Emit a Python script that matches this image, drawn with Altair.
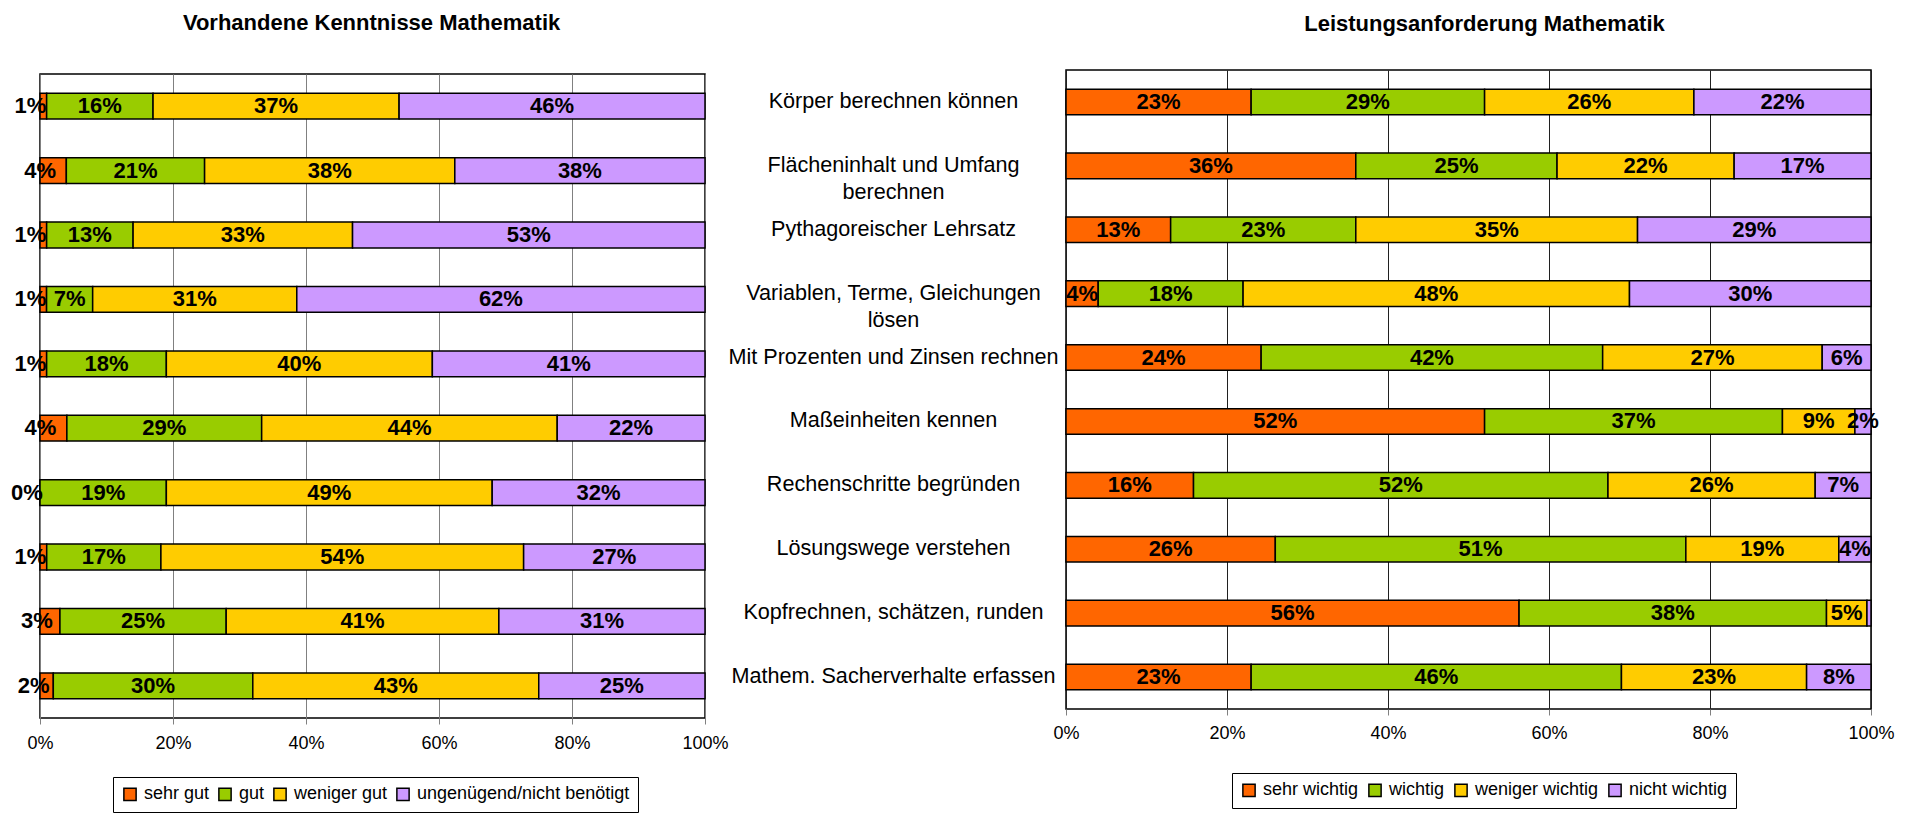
import altair as alt
import pandas as pd

FONT = "Liberation Sans"

# ---------------- left chart data ----------------
left_title = "Vorhandene Kenntnisse Mathematik"
left_series = ["sehr gut", "gut", "weniger gut", "ungenügend/nicht benötigt"]
left_rows = [1, 2, 3, 4, 5, 6, 7, 8, 9, 10]
left_sehr_gut = [1, 4, 1, 1, 1, 4, 0, 1, 3, 2]
left_gut = [16, 21, 13, 7, 18, 29, 19, 17, 25, 30]
left_weniger_gut = [37, 38, 33, 31, 40, 44, 49, 54, 41, 43]
left_ungenuegend = [46, 38, 53, 62, 41, 22, 32, 27, 31, 25]
left_colors = ["#FF6600", "#99CC00", "#FFCC00", "#CC99FF"]

# ---------------- right chart data ----------------
right_title = "Leistungsanforderung Mathematik"
right_series = ["sehr wichtig", "wichtig", "weniger wichtig", "nicht wichtig"]
right_categories = [
    "Körper berechnen können",
    "Flächeninhalt und Umfang\nberechnen",
    "Pythagoreischer Lehrsatz",
    "Variablen, Terme, Gleichungen\nlösen",
    "Mit Prozenten und Zinsen rechnen",
    "Maßeinheiten kennen",
    "Rechenschritte begründen",
    "Lösungswege verstehen",
    "Kopfrechnen, schätzen, runden",
    "Mathem. Sacherverhalte erfassen",
]
right_sehr_wichtig = [23, 36, 13, 4, 24, 52, 16, 26, 56, 23]
right_wichtig = [29, 25, 23, 18, 42, 37, 52, 51, 38, 46]
right_weniger_wichtig = [26, 22, 35, 48, 27, 9, 26, 19, 5, 23]
right_nicht_wichtig = [22, 17, 29, 30, 6, 2, 7, 4, 0.5, 8]
right_unlabelled = [("Kopfrechnen, schätzen, runden", "nicht wichtig")]
right_colors = ["#FF6600", "#99CC00", "#FFCC00", "#CC99FF"]


def build(cats, series, columns, unlabelled=()):
    rows = []
    for ci, c in enumerate(cats):
        for si, s in enumerate(series):
            v = columns[si][ci]
            lab = "" if (c, s) in unlabelled else f"{round(v)}%"
            rows.append({"cat": c, "series": s, "order": si, "v": v, "label": lab})
    return pd.DataFrame(rows)


left_df = build(left_rows, left_series,
                [left_sehr_gut, left_gut, left_weniger_gut, left_ungenuegend])
right_df = build(right_categories, right_series,
                 [right_sehr_wichtig, right_wichtig, right_weniger_wichtig, right_nicht_wichtig],
                 right_unlabelled)


def title_params(text, offset, dx):
    return alt.TitleParams(text=text, font=FONT, fontSize=22, fontWeight="bold",
                           color="black", anchor="middle", offset=offset, dx=dx)


def panel(df, cats, series, colors, width, height, grid_color, y_axis,
          legend_x, legend_y, first_dx, col_pad, label_pad_x):
    base = alt.Chart(df).transform_stack(
        stack="v", groupby=["cat"], as_=["x0", "x1"], offset="normalize",
        sort=[alt.SortField(field="order", order="ascending")],
    ).transform_calculate(mid="(datum.x0 + datum.x1) / 2")

    ysc = alt.Scale(paddingInner=0.6, paddingOuter=0.3)
    yenc = alt.Y("cat:N", sort=cats, scale=ysc, axis=y_axis, title=None)

    bars = base.mark_bar(stroke="black", strokeWidth=1.5).encode(
        x=alt.X("x0:Q", scale=alt.Scale(domain=[0, 1], nice=False, zero=True),
                axis=alt.Axis(values=[0, 0.2, 0.4, 0.6, 0.8, 1.0], format=".0%",
                              grid=True, gridColor=grid_color, gridWidth=1,
                              domain=False, ticks=True, tickSize=6, tickColor="#808080",
                              labelFont=FONT, labelFontSize=18, labelColor="black",
                              labelPadding=label_pad_x, labelFlush=False),
                title=None),
        x2="x1:Q",
        y=yenc,
        color=alt.Color("series:N", scale=alt.Scale(domain=series, range=colors),
                        legend=alt.Legend(title=None, orient="none", legendX=legend_x,
                                          legendY=legend_y, direction="horizontal",
                                          columns=4, symbolType="square", symbolSize=150,
                                          symbolStrokeColor="black", symbolStrokeWidth=1.5,
                                          labelFont=FONT, labelFontSize=18, labelLimit=0,
                                          labelColor="black", labelOffset=5,
                                          strokeColor="black", fillColor="white",
                                          padding=8, columnPadding=col_pad)),
    )
    txt_kw = dict(font=FONT, fontSize=22, fontWeight="bold", color="black", baseline="middle")
    text_first = base.transform_filter("datum.order == 0").mark_text(dx=first_dx, **txt_kw).encode(
        x="mid:Q", y=alt.Y("cat:N", sort=cats), text="label:N")
    text_rest = base.transform_filter("datum.order > 0").mark_text(**txt_kw).encode(
        x="mid:Q", y=alt.Y("cat:N", sort=cats), text="label:N")
    return alt.layer(bars, text_first, text_rest).properties(width=width, height=height)


left_panel = panel(left_df, left_rows, left_series, left_colors, 665, 644, "#808080", None,
                   73, 707, -13, 5, 10)

# invisible strip above the left plot: its frame sits a little lower than the right one
spacer = alt.Chart(pd.DataFrame({"s": [0]})).mark_point(opacity=0, size=0, strokeWidth=0).encode(
    x=alt.X("s:Q", axis=None), y=alt.Y("s:Q", axis=None)
).properties(width=665, height=1, view=alt.ViewBackground(stroke="transparent"))

left = alt.vconcat(spacer, left_panel, spacing=1).resolve_scale(
    x="independent", y="independent"
).properties(title=title_params(left_title, 34, 2))

right = panel(right_df, right_categories, right_series, right_colors, 805, 639, "#202020",
              alt.Axis(labelAlign="center", labelBaseline="middle", labelPadding=173,
                       ticks=False, domain=False, labelFont=FONT, labelFontSize=21.6,
                       labelColor="black", labelLineHeight=27, labelLimit=0,
                       labelExpr="split(datum.label, '\\n')"),
              166, 703, 0, 6, 9).properties(title=title_params(right_title, 34, 16))

chart = alt.hconcat(left, right, spacing=-2).resolve_scale(
    color="independent", x="independent", y="independent"
).resolve_legend(color="independent").configure(
    padding={"left": 2, "top": 4, "right": 0, "bottom": 0}
).configure_view(stroke="black", strokeWidth=1.5)

chart.save("out.html", embed_options={"renderer": "svg", "actions": False})
